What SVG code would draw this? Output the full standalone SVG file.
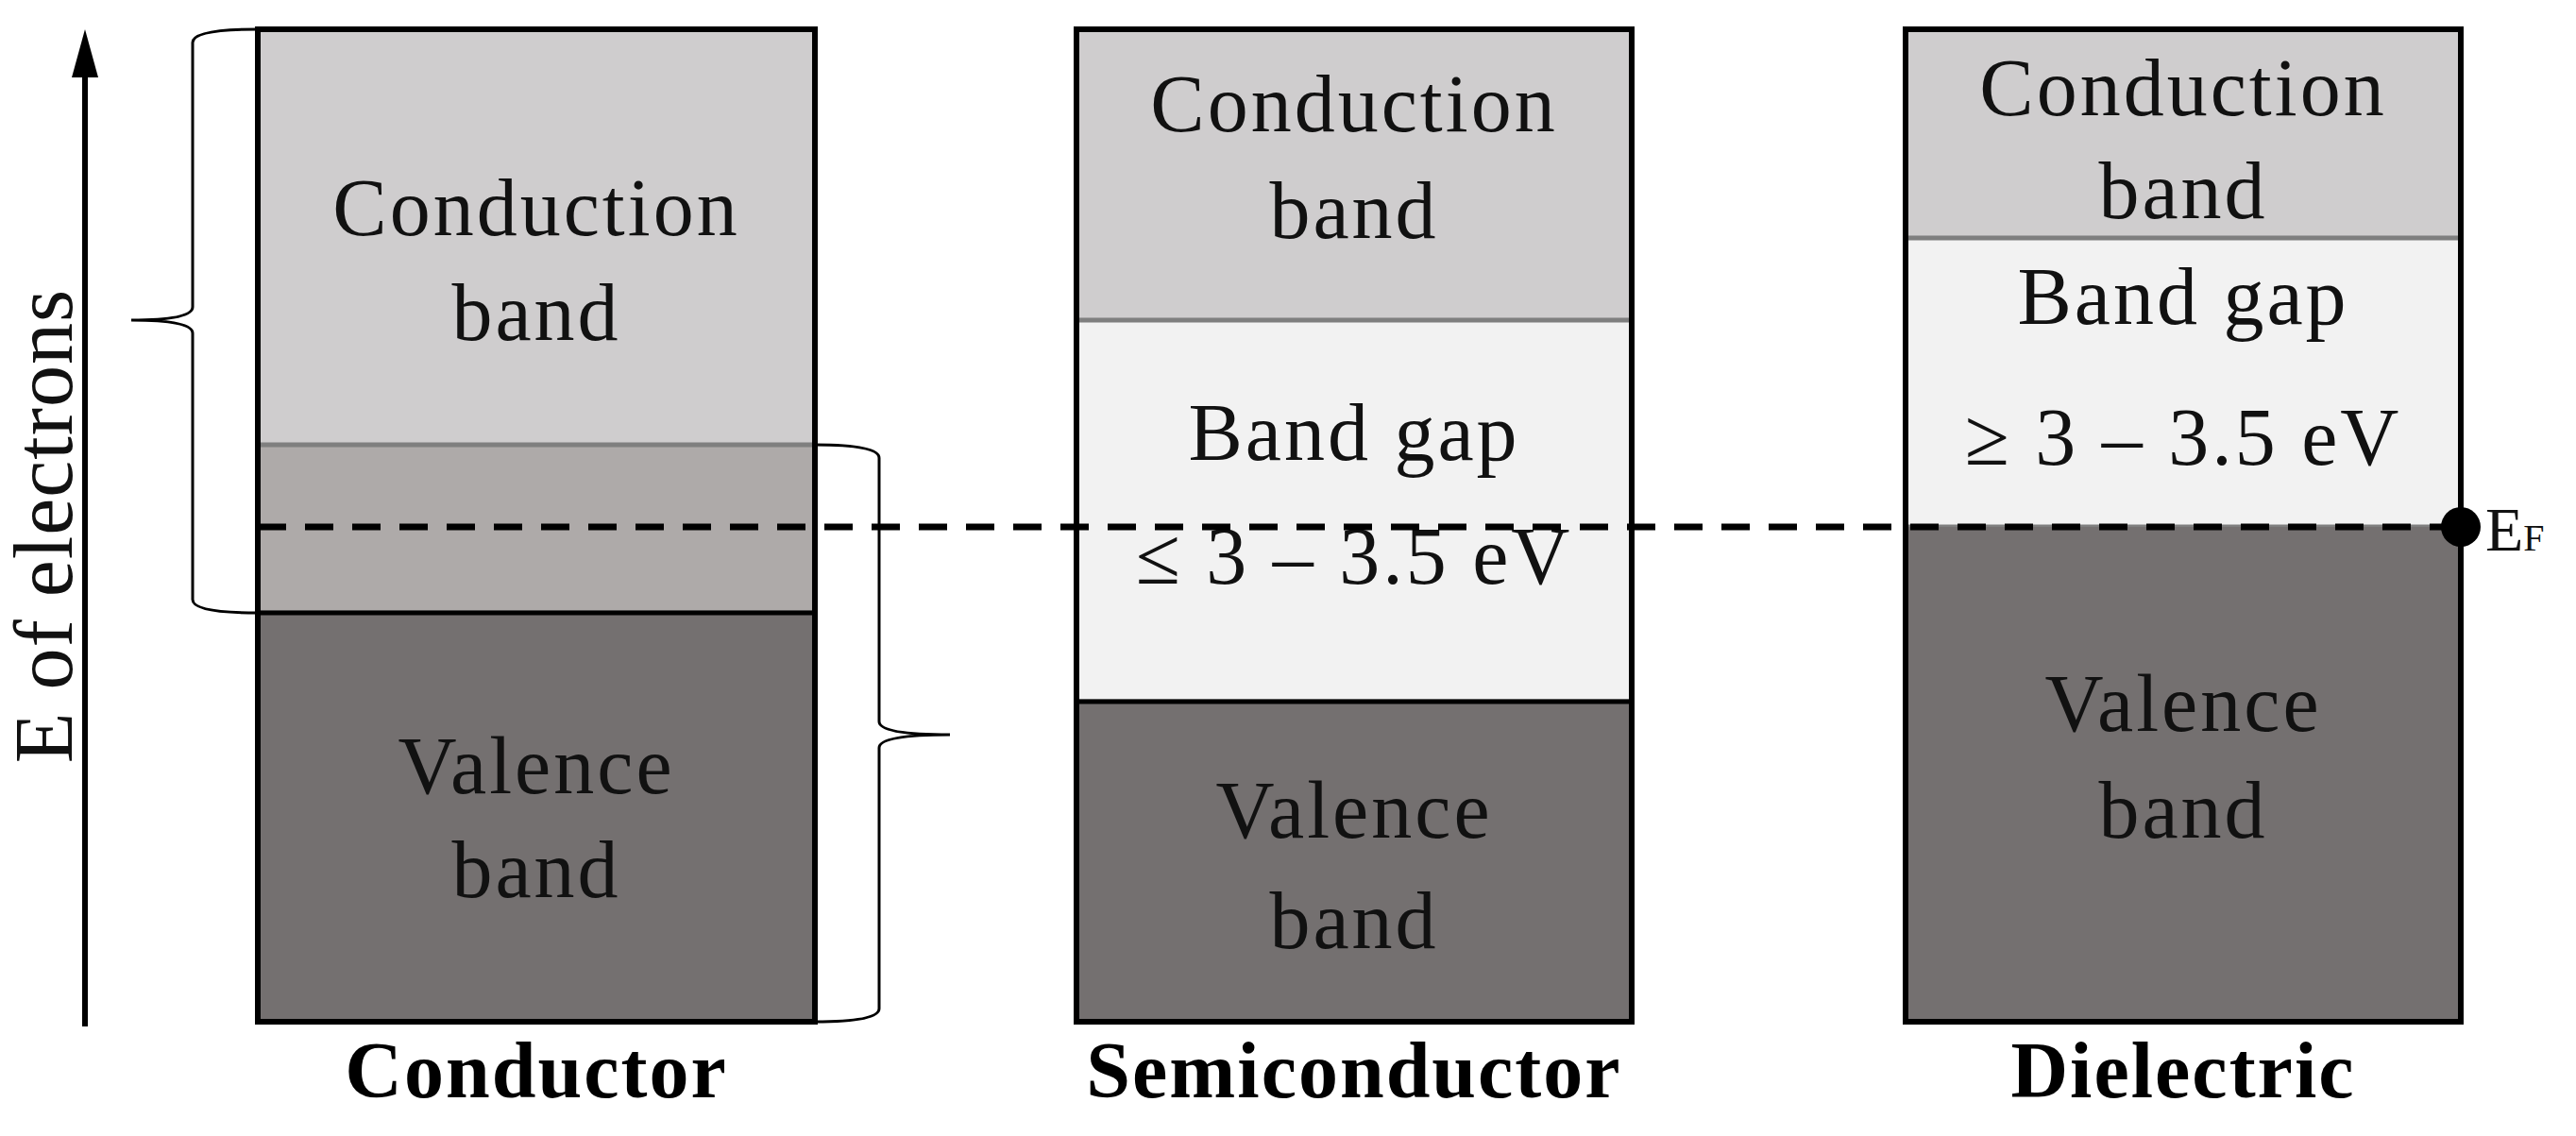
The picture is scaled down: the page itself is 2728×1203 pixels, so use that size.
<svg xmlns="http://www.w3.org/2000/svg" width="2728" height="1203" viewBox="0 0 2728 1203">
<style>
.t{font-family:"Liberation Serif","DejaVu Serif",serif;font-size:86px;fill:#111;text-anchor:middle;letter-spacing:3px}
.b{font-family:"Liberation Serif","DejaVu Serif",serif;font-size:84px;font-weight:bold;fill:#000;text-anchor:middle;letter-spacing:2px}
.cb{fill:#cfcdce}.vb{fill:#747070}.gap{fill:#f2f2f2;stroke:#7f7f7f;stroke-width:5}
.ov{fill:#aeaaa9;stroke:#7f7f7f;stroke-width:5}
.frame{fill:none;stroke:#000;stroke-width:6}
.br{fill:none;stroke:#000;stroke-width:3}
</style>
<defs><marker id="ah" markerWidth="10" markerHeight="14" refX="5" refY="12" orient="auto" markerUnits="userSpaceOnUse" viewBox="0 0 10 14"><path d="M0,14 L5,0 L10,14 Z" fill="#000"/></marker></defs>
<g id="axis">
<line x1="90" y1="1087" x2="90" y2="75" stroke="#000" stroke-width="6"/>
<path d="M76,82 L90,31 L104,82 Z" fill="#000"/>
<text class="t" transform="translate(76,557) rotate(-90)" style="font-size:88px;letter-spacing:1px">E of electrons</text>
</g>
<g id="conductor">
<rect class="cb" x="273" y="31" width="590" height="440"/>
<rect class="ov" x="273" y="471" width="590" height="178"/>
<rect class="vb" x="273" y="649" width="590" height="433"/>
<line x1="273" y1="649" x2="863" y2="649" stroke="#000" stroke-width="5"/>
<rect class="frame" x="273" y="31" width="590" height="1051"/>
<text class="t" x="568" y="249">Conduction</text>
<text class="t" x="568" y="360">band</text>
<text class="t" x="568" y="840">Valence</text>
<text class="t" x="568" y="950">band</text>
<text class="b" x="568" y="1162">Conductor</text>
</g>
<g id="braces">
<path class="br" d="M273,31 Q204,31 204,45 L204,325 Q204,339 139,339 Q204,339 204,353 L204,635 Q204,649 273,649"/>
<path class="br" d="M863,471 Q931,471 931,485 L931,764 Q931,778 1006,778 Q931,778 931,792 L931,1068 Q931,1082 863,1082"/>
</g>
<g id="semiconductor">
<rect class="cb" x="1140" y="31" width="588" height="308"/>
<rect class="gap" x="1140" y="339" width="588" height="404"/>
<rect class="vb" x="1140" y="743" width="588" height="339"/>
<line x1="1140" y1="743" x2="1728" y2="743" stroke="#000" stroke-width="5"/>
<rect class="frame" x="1140" y="31" width="588" height="1051"/>
<text class="t" x="1434" y="139">Conduction</text>
<text class="t" x="1434" y="252">band</text>
<text class="t" x="1434" y="487">Band gap</text>
<text class="t" x="1434" y="618">≤ 3 – 3.5 eV</text>
<text class="t" x="1434" y="887">Valence</text>
<text class="t" x="1434" y="1004">band</text>
<text class="b" x="1434" y="1162">Semiconductor</text>
</g>
<g id="dielectric">
<rect class="cb" x="2018" y="31" width="588" height="221"/>
<rect class="gap" x="2018" y="252" width="588" height="306"/>
<rect class="vb" x="2018" y="558" width="588" height="524"/>
<rect class="frame" x="2018" y="31" width="588" height="1051"/>
<text class="t" x="2312" y="122">Conduction</text>
<text class="t" x="2312" y="231">band</text>
<text class="t" x="2312" y="343">Band gap</text>
<text class="t" x="2312" y="492">≥ 3 – 3.5 eV</text>
<text class="t" x="2312" y="774">Valence</text>
<text class="t" x="2312" y="887">band</text>
<text class="b" x="2312" y="1162">Dielectric</text>
</g>
<g id="fermi">
<line x1="273" y1="558" x2="2606" y2="558" stroke="#000" stroke-width="7" stroke-dasharray="30,20"/>
<circle cx="2606" cy="558" r="21" fill="#000"/>
<text x="2632" y="583" style="font-family:'Liberation Serif',serif;font-size:66px;fill:#111">E<tspan style="font-size:40px">F</tspan></text>
</g>
</svg>
